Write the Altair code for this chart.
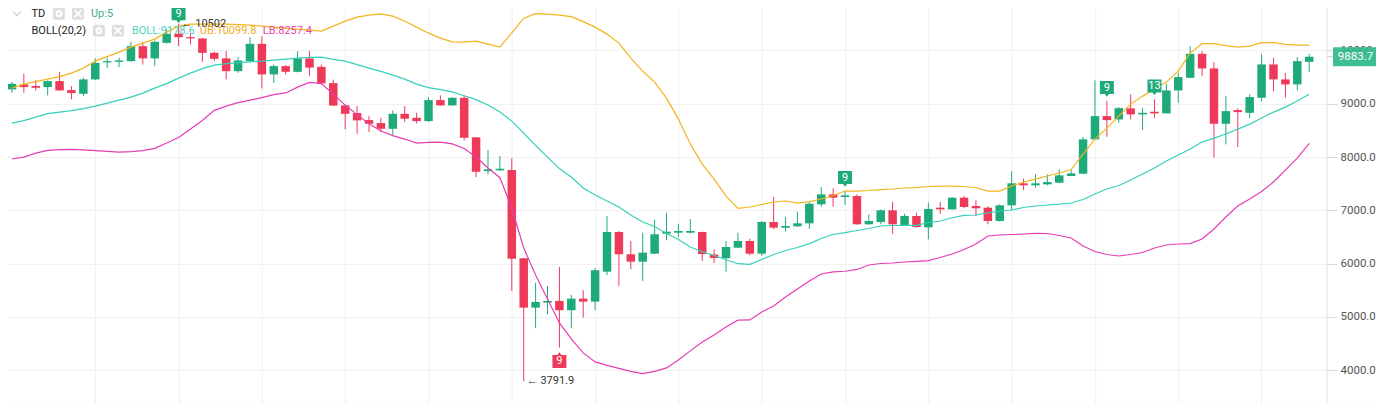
import altair as alt
import pandas as pd

# ---------------- data ----------------
opens = [9270, 9364, 9332, 9313, 9426, 9257, 9188, 9458, 9777, 9788,
         9801, 10082, 9852, 10144, 10313, 10251, 10227, 9957, 9852, 9613,
         9801, 10126, 9552, 9707, 9600, 9852, 9694, 9388, 8970, 8826,
         8694, 8638, 8531, 8812, 8737, 8675, 9069, 8970, 9113, 8370,
         7737, 7751, 7756, 6100, 5173, 5267, 5299, 5124, 5342, 5286,
         5848, 6593, 6175, 6036, 6186, 6561, 6580, 6580, 6593, 6171,
         6100, 6299, 6424, 6186, 6781, 6674, 6700, 6756, 7113, 7300,
         7250, 7268, 6738, 6781, 7000, 6724, 6893, 6681, 7049, 7019,
         7237, 7081, 7049, 6800, 7094, 7507, 7469, 7488, 7518, 7644,
         7687, 8332, 8769, 8707, 8914, 8801, 8850, 8820, 9251, 9488,
         9938, 9664, 8625, 8882, 8831, 9113, 9739, 9458, 9364, 9788]
highs = [9413, 9563, 9445, 9440, 9600, 9332, 9488, 9852, 9863, 9863,
         10163, 10163, 10189, 10396, 10502, 10313, 10238, 9980, 9989, 9876,
         10251, 10270, 9739, 9726, 9989, 9989, 9739, 9454, 8976, 8957,
         8769, 8737, 8876, 8957, 8831, 9126, 9158, 9126, 9158, 8375,
         8131, 8019, 7976, 6105, 5642, 5580, 5937, 5411, 5499, 5912,
         6893, 6612, 6424, 6580, 6818, 6955, 6749, 6837, 6600, 6269,
         6424, 6580, 6467, 6800, 7250, 6875, 6974, 7162, 7437, 7413,
         7362, 7300, 6925, 7019, 7162, 6936, 6955, 7143, 7156, 7250,
         7268, 7188, 7081, 7113, 7737, 7593, 7676, 7676, 7769, 7756,
         8375, 9439, 9051, 8938, 9176, 8925, 9083, 9375, 9582, 10082,
         9989, 9782, 9144, 8914, 9176, 9927, 9863, 9582, 9876, 9938]
lows = [9206, 9206, 9251, 9158, 9245, 9083, 9144, 9445, 9675, 9688,
        9790, 9739, 9707, 10130, 10082, 10114, 9788, 9801, 9458, 9582,
        9790, 9289, 9394, 9552, 9590, 9520, 9364, 8960, 8520, 8437,
        8469, 8469, 8413, 8657, 8632, 8657, 8960, 8960, 8313, 7625,
        7676, 7737, 5486, 3791.9, 4787, 5049, 4423, 4787, 4985, 5124,
        5786, 5580, 5893, 5674, 6180, 6437, 6499, 6561, 6049, 6011,
        5848, 6287, 6156, 6143, 6644, 6599, 6690, 6655, 7068, 7068,
        7100, 6730, 6730, 6738, 6561, 6715, 6674, 6456, 6936, 7010,
        7038, 6893, 6738, 6786, 7000, 7381, 7424, 7469, 7510, 7640,
        7680, 8320, 8381, 8644, 8707, 8507, 8737, 8815, 9019, 9480,
        9520, 7987, 8238, 8188, 8726, 9051, 9238, 9113, 9251, 9600]
closes = [9375, 9313, 9300, 9426, 9251, 9201, 9458, 9769, 9801, 9814,
          10082, 9852, 10163, 10313, 10251, 10227, 9957, 9844, 9613, 9814,
          10126, 9552, 9707, 9600, 9852, 9679, 9383, 8966, 8812, 8689,
          8625, 8531, 8812, 8719, 8675, 9069, 8970, 9113, 8362, 7724,
          7769, 7781, 6092, 5173, 5280, 5299, 5124, 5342, 5286, 5875,
          6593, 6175, 6036, 6205, 6550, 6599, 6612, 6612, 6180, 6105,
          6312, 6424, 6186, 6781, 6674, 6706, 6756, 7124, 7300, 7237,
          7282, 6738, 6800, 7000, 6738, 6893, 6687, 7025, 7019, 7237,
          7062, 7038, 6800, 7094, 7507, 7469, 7507, 7531, 7657, 7694,
          8332, 8769, 8694, 8919, 8801, 8831, 8820, 9251, 9501, 9938,
          9664, 8625, 8863, 8844, 9126, 9739, 9458, 9364, 9801, 9883.7]

boll_ub = [9295, 9370, 9416, 9463, 9510, 9576, 9670, 9801, 9885, 9970,
           10064, 10139, 10214, 10345, 10458, 10495, 10495, 10495, 10495, 10486,
           10476, 10458, 10439, 10420, 10401, 10383, 10364, 10458, 10551, 10626,
           10664, 10688, 10645, 10551, 10439, 10326, 10232, 10163, 10157, 10176,
           10120, 10064, 10332, 10608, 10692, 10683, 10664, 10636, 10542, 10439,
           10308, 10139, 9857, 9613, 9407, 9107, 8713, 8244, 7869, 7587,
           7268, 7038, 7062, 7109, 7156, 7175, 7137, 7165, 7212, 7278,
           7362, 7362, 7372, 7390, 7400, 7419, 7428, 7447, 7456, 7456,
           7447, 7424, 7362, 7362, 7456, 7531, 7587, 7644, 7700, 7766,
           8056, 8338, 8544, 8769, 8994, 9144, 9276, 9407, 9613, 9951,
           10129, 10129, 10092, 10064, 10082, 10148, 10148, 10114, 10101, 10099.8]
boll_mid = [8638, 8685, 8750, 8816, 8844, 8872, 8910, 8957, 9013, 9069,
            9126, 9201, 9295, 9379, 9482, 9576, 9660, 9726, 9754, 9773,
            9788, 9801, 9820, 9839, 9857, 9872, 9876, 9833, 9801, 9735,
            9670, 9608, 9538, 9463, 9370, 9304, 9266, 9225, 9150, 9079,
            8976, 8844, 8675, 8450, 8216, 8000, 7784, 7625, 7419, 7287,
            7175, 7062, 6912, 6781, 6696, 6565, 6452, 6312, 6222, 6152,
            6073, 5998, 5987, 6077, 6171, 6246, 6302, 6374, 6471, 6546,
            6580, 6621, 6659, 6706, 6715, 6719, 6719, 6771, 6799, 6861,
            6906, 6912, 6950, 6987, 7006, 7053, 7081, 7100, 7115, 7137,
            7203, 7306, 7400, 7465, 7569, 7681, 7794, 7925, 8038, 8150,
            8281, 8356, 8432, 8525, 8619, 8732, 8844, 8938, 9051, 9178.6]
boll_lb = [7963, 8000, 8075, 8126, 8141, 8145, 8135, 8122, 8107, 8094,
           8103, 8122, 8163, 8263, 8366, 8525, 8685, 8876, 8957, 9022,
           9069, 9116, 9173, 9204, 9313, 9401, 9379, 9182, 8976, 8797,
           8625, 8488, 8403, 8338, 8263, 8276, 8281, 8248, 8160, 8000,
           7794, 7612, 7043, 6293, 5786, 5336, 4886, 4586, 4323, 4154,
           4089, 4032, 3976, 3935, 3976, 4042, 4192, 4361, 4529, 4661,
           4811, 4937, 4942, 5092, 5205, 5374, 5524, 5674, 5805, 5843,
           5856, 5890, 5974, 6002, 6011, 6030, 6043, 6055, 6115, 6180,
           6265, 6368, 6518, 6537, 6546, 6556, 6569, 6565, 6527, 6481,
           6330, 6227, 6171, 6143, 6171, 6208, 6293, 6349, 6368, 6374,
           6462, 6649, 6875, 7081, 7212, 7353, 7531, 7756, 7981, 8257.4]

td_top_idx = [14]
td_top_text = ["9"]
td_up_idx = [70, 92, 96]
td_up_text = ["9", "9", "13"]
td_down_idx = [46]
td_down_text = ["9"]

y_ticks = [4000, 5000, 6000, 7000, 8000, 9000, 10000]
week_ticks = [7, 14, 21, 28, 35, 42, 49, 56, 63, 70, 77, 84, 91, 98, 105]

last_price = 9883.7
max_high = 10502
min_low = 3791.9

# ---------------- styling ----------------
FONT = "Roboto"
UP = "#1faa7a"
DOWN = "#ee3a58"
C_MID = "#36d0bb"
C_UB = "#f4b41c"
C_LB = "#e63db4"
GRID = "#f0f0f0"

n = len(opens)
df = pd.DataFrame({
    "i": list(range(n)),
    "open": opens, "high": highs, "low": lows, "close": closes,
    "ub": boll_ub, "mid": boll_mid, "lb": boll_lb,
})
df["dir"] = ["up" if c >= o else "down" for o, c in zip(opens, closes)]

X = alt.X("i:Q", scale=alt.Scale(domain=[-0.5, 110.08], nice=False, zero=False),
          axis=alt.Axis(values=week_ticks, grid=True, gridColor=GRID, labels=False,
                        ticks=False, domain=False, title=None))
YSC = alt.Scale(domain=[3348, 10927], nice=False, zero=False)
YAX = alt.Axis(orient="right", values=y_ticks, format=".1f", grid=True, gridColor=GRID,
               domain=False, tickColor="#d8d8d8", tickSize=10, labelPadding=3,
               labelFont=FONT, labelFontSize=11.5, labelColor="#555555", title=None)
col = alt.Color("dir:N", scale=alt.Scale(domain=["up", "down"], range=[UP, DOWN]), legend=None)

base = alt.Chart(df)

wicks = base.mark_rule(strokeWidth=1).encode(
    x=X, y=alt.Y("low:Q", scale=YSC, axis=YAX), y2="high:Q", color=col)
bodies = base.mark_bar(size=8.5).encode(
    x="i:Q", y=alt.Y("open:Q", scale=YSC), y2="close:Q", color=col)

line_ub = base.mark_line(color=C_UB, strokeWidth=1.2).encode(x="i:Q", y=alt.Y("ub:Q", scale=YSC))
line_mid = base.mark_line(color=C_MID, strokeWidth=1.2).encode(x="i:Q", y=alt.Y("mid:Q", scale=YSC))
line_lb = base.mark_line(color=C_LB, strokeWidth=1.2).encode(x="i:Q", y=alt.Y("lb:Q", scale=YSC))

# TD sequential markers
UP_BOX = "M-1,-0.93 L1,-0.93 L1,0.93 L0.3,0.93 L0,1.3 L-0.3,0.93 L-1,0.93 Z"
DN_BOX = "M-1,-0.93 L-0.3,-0.93 L0,-1.3 L0.3,-0.93 L1,-0.93 L1,0.93 L-1,0.93 Z"


def td_marker(idx, texts, vals, shape, fill, off):
    d = pd.DataFrame({"i": idx, "t": texts, "v": vals})
    box = alt.Chart(d).mark_point(shape=shape, size=196, filled=True, fill=fill,
                                  strokeWidth=0, opacity=1, yOffset=off).encode(
        x="i:Q", y=alt.Y("v:Q", scale=YSC))
    txt = alt.Chart(d).mark_text(color="white", font=FONT, fontSize=11, dy=off,
                                 baseline="middle", align="center").encode(
        x="i:Q", y=alt.Y("v:Q", scale=YSC), text="t:N")
    return [box, txt]


td_layers = (
    td_marker(td_top_idx, td_top_text, [highs[k] for k in td_top_idx], UP_BOX, UP, -10)
    + td_marker(td_up_idx, td_up_text, [highs[k] for k in td_up_idx], UP_BOX, UP, -13.5)
    + td_marker(td_down_idx, td_down_text, [lows[k] for k in td_down_idx], DN_BOX, DOWN, 13.8)
)

# high / low annotations
hl_df = pd.DataFrame({"i": [lows.index(min_low), highs.index(max_high)],
                      "v": [min_low, max_high],
                      "t": ["\u2190 3791.9", "\u2190 10502"]})
hl_txt = alt.Chart(hl_df).mark_text(align="left", baseline="middle", dx=3, font=FONT,
                                    fontSize=11, color="#333333").encode(
    x="i:Q", y=alt.Y("v:Q", scale=YSC), text="t:N")

one = pd.DataFrame({"a": [0]})


def label(txt, x, y, color, size=11, align="left"):
    return alt.Chart(one).mark_text(text=txt, align=align, baseline="middle", font=FONT,
                                    fontSize=size, color=color).encode(
        x=alt.value(x), y=alt.value(y))


def icon_box(x, y):
    return alt.Chart(one).mark_rect(color="#dedede", cornerRadius=2).encode(
        x=alt.value(x), x2=alt.value(x + 12), y=alt.value(y - 6), y2=alt.value(y + 6))


def gear(x, y):
    return alt.Chart(one).mark_point(shape="circle", size=22, filled=False, stroke="white",
                                     strokeWidth=2.2, opacity=1).encode(
        x=alt.value(x + 6), y=alt.value(y))


def cross(x, y):
    return alt.Chart(one).mark_point(shape="M-1,-1L1,1M-1,1L1,-1", size=50, filled=False,
                                     stroke="white", strokeWidth=1.8, opacity=1).encode(
        x=alt.value(x + 6), y=alt.value(y))


r1, r2 = 12.5, 29.5
chevron = alt.Chart(one).mark_point(shape="M-1,-0.5L0,0.5L1,-0.5", size=64, filled=False,
                                    stroke="#c8c8c8", strokeWidth=1.3, opacity=1).encode(
    x=alt.value(16), y=alt.value(r1))

legend_layers = [
    chevron,
    label("TD", 30.5, r1, "#222222"),
    icon_box(52, r1), gear(52, r1), icon_box(71, r1), cross(71, r1),
    label("Up:5", 90, r1, "#3fae8a"),
    label("BOLL(20,2)", 30.5, r2, "#222222"),
    icon_box(92, r2), gear(92, r2), icon_box(111, r2), cross(111, r2),
    label("BOLL:9178.6", 131, r2, "#4ccfc0"),
    label("UB:10099.8", 199, r2, "#f2ac22"),
    label("LB:8257.4", 262, r2, "#e64aa6"),
]

# frame lines
vborder = alt.Chart(one).mark_rule(color="#e2e2e2", strokeWidth=1).encode(
    x=alt.value(1327), y=alt.value(0), y2=alt.value(404))
hborder = alt.Chart(one).mark_rule(color="#e2e2e2", strokeWidth=1).encode(
    x=alt.value(0), x2=alt.value(1384), y=alt.value(403.5))

# last price tag
lp_df = pd.DataFrame({"v": [last_price], "t": ["9883.7"]})
lp_box = alt.Chart(lp_df).mark_rect(color="#2fb98a", opacity=0.93, yOffset=-9.5,
                                    y2Offset=9.5).encode(
    x=alt.value(1333), x2=alt.value(1386), y=alt.Y("v:Q", scale=YSC), y2="v:Q")
lp_tick = alt.Chart(lp_df).mark_rule(color="#c8c8c8", strokeWidth=1).encode(
    x=alt.value(1327), x2=alt.value(1333), y=alt.Y("v:Q", scale=YSC))
lp_txt = alt.Chart(lp_df).mark_text(color="white", font=FONT, fontSize=11.5,
                                    align="center", baseline="middle").encode(
    x=alt.value(1355.5), y=alt.Y("v:Q", scale=YSC), text="t:N")

chart = alt.layer(
    wicks, bodies, line_ub, line_mid, line_lb,
    *td_layers, hl_txt,
    vborder, hborder, lp_tick, lp_box, lp_txt,
    *legend_layers,
).properties(
    width=1327, height=404,
    padding={"left": -8, "top": -8, "right": -10, "bottom": -2},
    background="white",
).configure_view(stroke=None).resolve_scale(y="shared")

chart.save("out.html", embed_options={"renderer": "svg", "actions": False})
